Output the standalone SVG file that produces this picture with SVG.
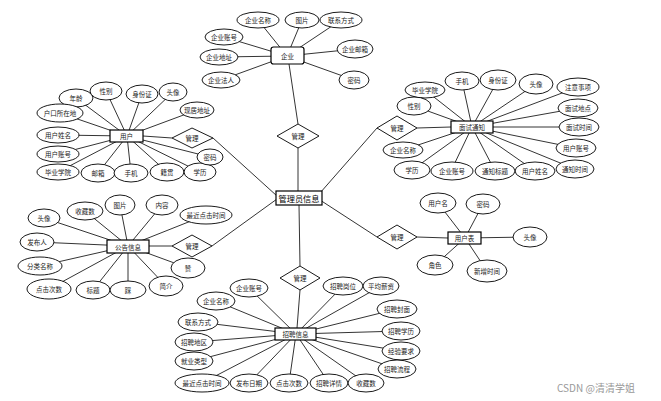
<svg xmlns="http://www.w3.org/2000/svg" width="661" height="401" viewBox="0 0 661 401">
<style>
.bg{fill:#fff}
.c line{stroke:#000;stroke-width:0.8}
ellipse{fill:#fff;stroke:#000;stroke-width:0.9}
.ent rect{fill:#fff;stroke:#000;stroke-width:1.2}
.rel polygon{fill:#fff;stroke:#000;stroke-width:0.9}
text{font-family:"Noto Sans CJK SC","Liberation Sans",sans-serif;font-size:6.5px;fill:#222;text-anchor:middle;dominant-baseline:central}
.big{font-size:8.2px;fill:#000}
.wm{font-size:10px;fill:#999;text-anchor:start}
</style>
<rect class="bg" x="0" y="0" width="661" height="401"/>
<g class="c" id="connectors">
<line x1="287" y1="56" x2="258" y2="20"/><line x1="287" y1="56" x2="302" y2="20"/><line x1="287" y1="56" x2="341" y2="20"/>
<line x1="287" y1="56" x2="224" y2="37"/><line x1="287" y1="56" x2="219" y2="57"/><line x1="287" y1="56" x2="221" y2="80"/>
<line x1="287" y1="56" x2="355" y2="49"/><line x1="287" y1="56" x2="354" y2="80"/>
<line x1="289" y1="64" x2="298" y2="124"/>
<line x1="298" y1="148" x2="298" y2="191"/>
<line x1="299" y1="205" x2="300" y2="266"/>
<line x1="320" y1="193" x2="377" y2="128"/>
<line x1="320" y1="200" x2="377" y2="237"/>
<line x1="277" y1="196" x2="213" y2="138"/>
<line x1="277" y1="199" x2="212" y2="246"/>
<line x1="417" y1="128" x2="451" y2="127"/>
<line x1="417" y1="237" x2="448" y2="238"/>
<line x1="172" y1="138" x2="143" y2="136"/>
<line x1="172" y1="246" x2="149" y2="246"/>
<line x1="300" y1="290" x2="297" y2="328"/>
<line x1="127" y1="136" x2="76" y2="98"/><line x1="127" y1="136" x2="106" y2="91"/><line x1="127" y1="136" x2="142" y2="94"/>
<line x1="127" y1="136" x2="173" y2="92"/><line x1="127" y1="136" x2="197" y2="110"/><line x1="127" y1="136" x2="60" y2="113"/>
<line x1="127" y1="136" x2="58" y2="135"/><line x1="127" y1="136" x2="58" y2="154"/><line x1="127" y1="136" x2="58" y2="172"/>
<line x1="127" y1="136" x2="98" y2="173"/><line x1="127" y1="136" x2="131" y2="173"/><line x1="127" y1="136" x2="167" y2="172"/>
<line x1="127" y1="136" x2="200" y2="172"/><line x1="127" y1="136" x2="210" y2="157"/>
<line x1="472" y1="127" x2="425" y2="90"/><line x1="472" y1="127" x2="462" y2="81"/><line x1="472" y1="127" x2="498" y2="80"/>
<line x1="472" y1="127" x2="536" y2="84"/><line x1="472" y1="127" x2="414" y2="106"/><line x1="472" y1="127" x2="578" y2="87"/>
<line x1="472" y1="127" x2="578" y2="108"/><line x1="472" y1="127" x2="579" y2="127"/><line x1="472" y1="127" x2="576" y2="148"/>
<line x1="472" y1="127" x2="575" y2="169"/><line x1="472" y1="127" x2="535" y2="171"/><line x1="472" y1="127" x2="495" y2="171"/>
<line x1="472" y1="127" x2="451" y2="171"/><line x1="472" y1="127" x2="412" y2="170"/><line x1="472" y1="127" x2="403" y2="150"/>
<line x1="465" y1="238" x2="438" y2="203"/><line x1="465" y1="238" x2="483" y2="204"/><line x1="465" y1="238" x2="530" y2="237"/>
<line x1="465" y1="238" x2="435" y2="265"/><line x1="465" y1="238" x2="487" y2="271"/>
<line x1="128" y1="246" x2="44" y2="218"/><line x1="128" y1="246" x2="85" y2="211"/><line x1="128" y1="246" x2="120" y2="205"/>
<line x1="128" y1="246" x2="162" y2="205"/><line x1="128" y1="246" x2="206" y2="215"/><line x1="128" y1="246" x2="37" y2="242"/>
<line x1="128" y1="246" x2="40" y2="266"/><line x1="128" y1="246" x2="49" y2="289"/><line x1="128" y1="246" x2="93" y2="290"/>
<line x1="128" y1="246" x2="128" y2="290"/><line x1="128" y1="246" x2="166" y2="286"/><line x1="128" y1="246" x2="188" y2="268"/>
<line x1="296" y1="334" x2="249" y2="288"/><line x1="296" y1="334" x2="216" y2="301"/><line x1="296" y1="334" x2="198" y2="322"/>
<line x1="296" y1="334" x2="194" y2="342"/><line x1="296" y1="334" x2="194" y2="361"/><line x1="296" y1="334" x2="202" y2="383"/>
<line x1="296" y1="334" x2="249" y2="383"/><line x1="296" y1="334" x2="289" y2="383"/><line x1="296" y1="334" x2="329" y2="383"/>
<line x1="296" y1="334" x2="366" y2="383"/><line x1="296" y1="334" x2="343" y2="286"/><line x1="296" y1="334" x2="381" y2="286"/>
<line x1="296" y1="334" x2="397" y2="309"/><line x1="296" y1="334" x2="401" y2="331"/><line x1="296" y1="334" x2="401" y2="351"/>
<line x1="296" y1="334" x2="397" y2="369"/>
</g>

<g class="rel" id="rel-top"><polygon points="298,124 319,136 298,148 277,136"/><text x="298" y="136">管理</text></g>
<g class="rel" id="rel-bottom"><polygon points="300,266 320,278 300,290 280,278"/><text x="300" y="278">管理</text></g>
<g class="rel" id="rel-right-up"><polygon points="397,116 417,128 397,140 377,128"/><text x="397" y="128">管理</text></g>
<g class="rel" id="rel-right-down"><polygon points="397,225 417,237 397,249 377,237"/><text x="397" y="237">管理</text></g>
<g class="rel" id="rel-left-up"><polygon points="192,128 213,138 192,148 172,138"/><text x="192" y="138">管理</text></g>
<g class="rel" id="rel-left-down"><polygon points="192,235 212,246 192,257 172,246"/><text x="192" y="246">管理</text></g>

<g class="ent" id="admin"><rect x="276" y="191" width="46" height="14"/><text class="big" x="299" y="198">管理员信息</text></g>
<g class="ent" id="company"><rect x="271" y="47" width="33" height="17" rx="2.5"/><text x="287.5" y="55.5">企业</text></g>
<g class="ent" id="user"><rect x="110" y="130" width="33" height="12"/><text x="126.5" y="136">用户</text></g>
<g class="ent" id="interview"><rect x="451" y="121" width="42" height="12"/><text x="472" y="127">面试通知</text></g>
<g class="ent" id="usertable"><rect x="448" y="232" width="33" height="12"/><text x="464.5" y="238">用户表</text></g>
<g class="ent" id="notice"><rect x="107" y="240" width="42" height="13"/><text x="128" y="246.5">公告信息</text></g>
<g class="ent" id="job"><rect x="275" y="328" width="41" height="12"/><text x="295.5" y="334">招聘信息</text></g>

<g id="company-attrs">
<g id="c1"><ellipse cx="258" cy="20" rx="21" ry="8"/><text x="258" y="20">企业名称</text></g>
<g id="c2"><ellipse cx="302" cy="20" rx="17" ry="8"/><text x="302" y="20">图片</text></g>
<g id="c3"><ellipse cx="341" cy="20" rx="21" ry="8"/><text x="341" y="20">联系方式</text></g>
<g id="c4"><ellipse cx="224" cy="37" rx="19" ry="8"/><text x="224" y="37">企业账号</text></g>
<g id="c5"><ellipse cx="219" cy="57" rx="19" ry="8"/><text x="219" y="57">企业地址</text></g>
<g id="c6"><ellipse cx="221" cy="80" rx="19" ry="8"/><text x="221" y="80">企业法人</text></g>
<g id="c7"><ellipse cx="355" cy="49" rx="18" ry="9"/><text x="355" y="49">企业邮箱</text></g>
<g id="c8"><ellipse cx="354" cy="80" rx="15" ry="9"/><text x="354" y="80">密码</text></g>
</g>

<g id="user-attrs">
<g id="u1"><ellipse cx="76" cy="98" rx="17" ry="9"/><text x="76" y="98">年龄</text></g>
<g id="u2"><ellipse cx="106" cy="91" rx="16" ry="9"/><text x="106" y="91">性别</text></g>
<g id="u3"><ellipse cx="142" cy="94" rx="16" ry="9"/><text x="142" y="94">身份证</text></g>
<g id="u4"><ellipse cx="173" cy="92" rx="14" ry="9"/><text x="173" y="92">头像</text></g>
<g id="u5"><ellipse cx="197" cy="110" rx="17" ry="8"/><text x="197" y="110">现居地址</text></g>
<g id="u6"><ellipse cx="60" cy="113" rx="23" ry="9"/><text x="60" y="113">户口所在地</text></g>
<g id="u7"><ellipse cx="58" cy="135" rx="21" ry="8"/><text x="58" y="135">用户姓名</text></g>
<g id="u8"><ellipse cx="58" cy="154" rx="21" ry="8"/><text x="58" y="154">用户账号</text></g>
<g id="u9"><ellipse cx="58" cy="172" rx="21" ry="8"/><text x="58" y="172">毕业学院</text></g>
<g id="u10"><ellipse cx="98" cy="173" rx="17" ry="9"/><text x="98" y="173">邮箱</text></g>
<g id="u11"><ellipse cx="131" cy="173" rx="17" ry="9"/><text x="131" y="173">手机</text></g>
<g id="u12"><ellipse cx="167" cy="172" rx="17" ry="9"/><text x="167" y="172">籍贯</text></g>
<g id="u13"><ellipse cx="200" cy="172" rx="16" ry="9"/><text x="200" y="172">学历</text></g>
<g id="u14"><ellipse cx="210" cy="157" rx="13" ry="8"/><text x="210" y="157">密码</text></g>
</g>

<g id="interview-attrs">
<g id="i1"><ellipse cx="425" cy="90" rx="20" ry="8"/><text x="425" y="90">毕业学院</text></g>
<g id="i2"><ellipse cx="462" cy="81" rx="17" ry="9"/><text x="462" y="81">手机</text></g>
<g id="i3"><ellipse cx="498" cy="80" rx="18" ry="10"/><text x="498" y="80">身份证</text></g>
<g id="i4"><ellipse cx="536" cy="84" rx="17" ry="10"/><text x="536" y="84">头像</text></g>
<g id="i5"><ellipse cx="414" cy="106" rx="17" ry="9"/><text x="414" y="106">性别</text></g>
<g id="i6"><ellipse cx="578" cy="87" rx="21" ry="9"/><text x="578" y="87">注意事项</text></g>
<g id="i7"><ellipse cx="578" cy="108" rx="20" ry="9"/><text x="578" y="108">面试地点</text></g>
<g id="i8"><ellipse cx="579" cy="127" rx="20" ry="9"/><text x="579" y="127">面试时间</text></g>
<g id="i9"><ellipse cx="576" cy="148" rx="20" ry="9"/><text x="576" y="148">用户账号</text></g>
<g id="i10"><ellipse cx="575" cy="169" rx="19" ry="9"/><text x="575" y="169">通知时间</text></g>
<g id="i11"><ellipse cx="535" cy="171" rx="20" ry="9"/><text x="535" y="171">用户姓名</text></g>
<g id="i12"><ellipse cx="495" cy="171" rx="20" ry="9"/><text x="495" y="171">通知标题</text></g>
<g id="i13"><ellipse cx="452" cy="171" rx="21" ry="9"/><text x="452" y="171">企业账号</text></g>
<g id="i14"><ellipse cx="412" cy="170" rx="18" ry="9"/><text x="412" y="170">学历</text></g>
<g id="i15"><ellipse cx="403" cy="150" rx="20" ry="8"/><text x="403" y="150">企业名称</text></g>
</g>

<g id="usertable-attrs">
<g id="t1"><ellipse cx="438" cy="203" rx="18" ry="10"/><text x="438" y="203">用户名</text></g>
<g id="t2"><ellipse cx="483" cy="204" rx="17" ry="10"/><text x="483" y="204">密码</text></g>
<g id="t3"><ellipse cx="530" cy="237" rx="17" ry="10"/><text x="530" y="237">头像</text></g>
<g id="t4"><ellipse cx="435" cy="265" rx="18" ry="10"/><text x="435" y="265">角色</text></g>
<g id="t5"><ellipse cx="487" cy="271" rx="20" ry="11"/><text x="487" y="271">新增时间</text></g>
</g>

<g id="notice-attrs">
<g id="n1"><ellipse cx="44" cy="218" rx="16" ry="9"/><text x="44" y="218">头像</text></g>
<g id="n2"><ellipse cx="85" cy="211" rx="18" ry="9"/><text x="85" y="211">收藏数</text></g>
<g id="n3"><ellipse cx="120" cy="205" rx="15" ry="10"/><text x="120" y="205">图片</text></g>
<g id="n4"><ellipse cx="162" cy="205" rx="16" ry="10"/><text x="162" y="205">内容</text></g>
<g id="n5"><ellipse cx="206" cy="215" rx="26" ry="9"/><text x="206" y="215">最近点击时间</text></g>
<g id="n6"><ellipse cx="37" cy="242" rx="17" ry="9"/><text x="37" y="242">发布人</text></g>
<g id="n7"><ellipse cx="40" cy="266" rx="22" ry="9"/><text x="40" y="266">分类名称</text></g>
<g id="n8"><ellipse cx="49" cy="289" rx="22" ry="10"/><text x="49" y="289">点击次数</text></g>
<g id="n9"><ellipse cx="93" cy="290" rx="17" ry="9"/><text x="93" y="290">标题</text></g>
<g id="n10"><ellipse cx="128" cy="290" rx="18" ry="9"/><text x="128" y="290">踩</text></g>
<g id="n11"><ellipse cx="166" cy="286" rx="17" ry="10"/><text x="166" y="286">简介</text></g>
<g id="n12"><ellipse cx="188" cy="268" rx="17" ry="10"/><text x="188" y="268">赞</text></g>
</g>

<g id="job-attrs">
<g id="j1"><ellipse cx="249" cy="288" rx="19" ry="9"/><text x="249" y="288">企业账号</text></g>
<g id="j2"><ellipse cx="216" cy="301" rx="19" ry="9"/><text x="216" y="301">企业名称</text></g>
<g id="j3"><ellipse cx="198" cy="322" rx="20" ry="9"/><text x="198" y="322">联系方式</text></g>
<g id="j4"><ellipse cx="194" cy="342" rx="19" ry="9"/><text x="194" y="342">招聘地区</text></g>
<g id="j5"><ellipse cx="194" cy="361" rx="19" ry="9"/><text x="194" y="361">就业类型</text></g>
<g id="j6"><ellipse cx="202" cy="383" rx="27" ry="9"/><text x="202" y="383">最近点击时间</text></g>
<g id="j7"><ellipse cx="249" cy="383" rx="19" ry="9"/><text x="249" y="383">发布日期</text></g>
<g id="j8"><ellipse cx="289" cy="383" rx="19" ry="9"/><text x="289" y="383">点击次数</text></g>
<g id="j9"><ellipse cx="329" cy="383" rx="19" ry="9"/><text x="329" y="383">招聘详情</text></g>
<g id="j10"><ellipse cx="366" cy="383" rx="18" ry="9"/><text x="366" y="383">收藏数</text></g>
<g id="j11"><ellipse cx="343" cy="286" rx="20" ry="9"/><text x="343" y="286">招聘岗位</text></g>
<g id="j12"><ellipse cx="381" cy="286" rx="18" ry="9"/><text x="381" y="286">平均薪资</text></g>
<g id="j13"><ellipse cx="397" cy="309" rx="20" ry="9"/><text x="397" y="309">招聘封面</text></g>
<g id="j14"><ellipse cx="401" cy="331" rx="19" ry="9"/><text x="401" y="331">招聘学历</text></g>
<g id="j15"><ellipse cx="401" cy="351" rx="19" ry="9"/><text x="401" y="351">经验要求</text></g>
<g id="j16"><ellipse cx="397" cy="369" rx="19" ry="9"/><text x="397" y="369">招聘流程</text></g>
</g>

<text class="wm" x="557" y="387">CSDN @清清学姐</text>
</svg>
